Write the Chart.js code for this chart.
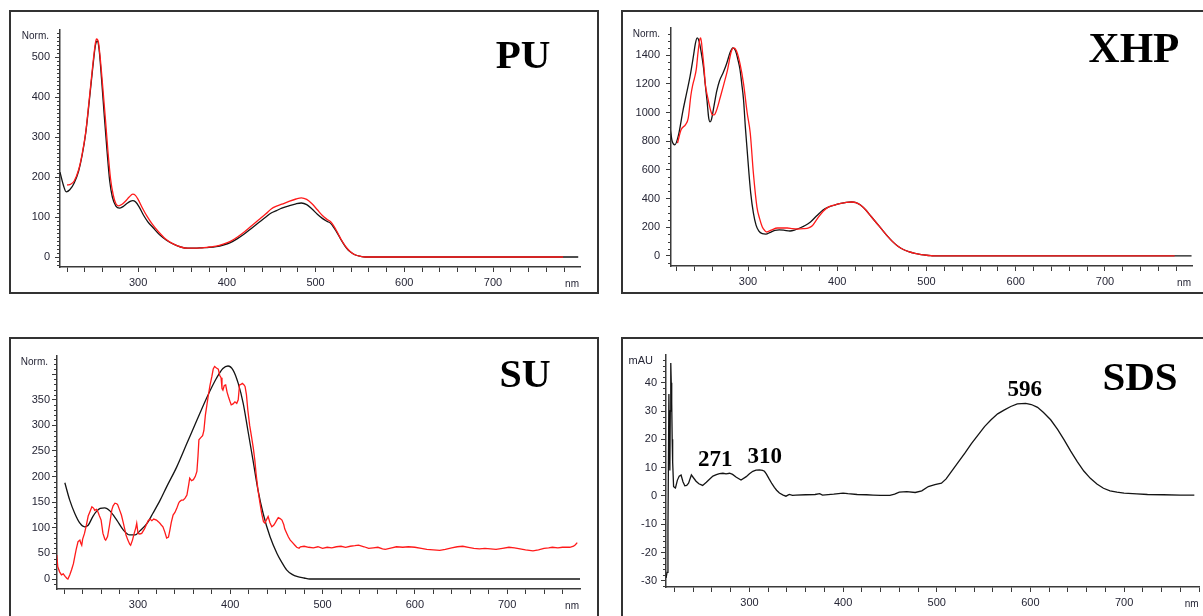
<!DOCTYPE html>
<html>
<head>
<meta charset="utf-8">
<title>UV-Vis spectra</title>
<script src="https://cdn.jsdelivr.net/npm/chart.js@4.4.1/dist/chart.umd.min.js"></script>
<style>
  body { margin: 0; background: #fff; width: 1203px; height: 616px; overflow: hidden; position: relative; }
  .frame { position: absolute; border: 2px solid #333; box-sizing: border-box; }
  canvas { position: absolute; }
</style>
</head>
<body>
<script>
// ---- spectra (wavelength in nm, absorbance) ----
const xLabels = [300, 400, 500, 600, 700];

// PU
const puBlackNm = [212, 216, 219, 223, 228, 233, 237, 241, 245, 249, 252, 254, 256, 259, 262, 265, 268, 271, 275, 279, 283, 287, 291, 294, 297, 301, 306, 311, 317, 324, 332, 340, 348, 356, 364, 372, 380, 388, 396, 404, 412, 420, 428, 436, 444, 450, 456, 462, 470, 478, 484, 490, 496, 502, 508, 513, 517, 521, 525, 529, 533, 537, 541, 545, 550, 556, 600, 700, 796];
const puBlack   = [212, 178, 163, 168, 185, 215, 255, 310, 390, 475, 530, 540, 520, 440, 350, 265, 190, 150, 127, 122, 126, 133, 139, 141, 138, 126, 105, 88, 73, 56, 42, 32, 25, 22, 22, 23, 24, 26, 30, 36, 46, 58, 72, 86, 100, 110, 116, 122, 128, 133, 135, 131, 120, 107, 96, 89, 84, 72, 58, 42, 28, 17, 10, 5, 2, 0, 0, 0, 0];
const puRedNm = [220, 224, 228, 233, 237, 241, 245, 248, 251, 253, 255, 257, 260, 263, 266, 269, 272, 275, 278, 282, 286, 290, 294, 297, 300, 305, 310, 316, 323, 331, 340, 348, 356, 364, 372, 380, 388, 396, 404, 412, 420, 428, 436, 444, 450, 456, 462, 470, 478, 484, 490, 496, 502, 508, 513, 517, 521, 525, 529, 533, 537, 541, 545, 550, 556, 779];
const puRed   = [180, 182, 190, 218, 258, 312, 395, 460, 520, 545, 540, 505, 430, 350, 265, 195, 155, 133, 128, 132, 140, 150, 157, 154, 144, 122, 102, 82, 63, 45, 32, 25, 22, 22, 23, 25, 27, 32, 39, 50, 63, 78, 93, 108, 120, 127, 132, 139, 145, 148, 144, 133, 118, 103, 94, 88, 76, 60, 43, 29, 18, 10, 5, 2, 0, 0];

// XHP
const xhpBlackNm = [213, 215, 218, 222, 227, 231, 235, 239, 241, 243, 245, 247, 250, 252, 254, 256, 257.5, 259, 262, 265, 268, 272, 276, 280, 283, 286, 289, 291, 293, 295, 297, 299, 301, 303, 306, 309, 312, 316, 320, 325, 330, 335, 340, 347, 352, 358, 364, 370, 377, 384, 390, 397, 404, 410, 416, 421, 426, 432, 438, 444, 450, 456, 462, 468, 474, 480, 487, 494, 500, 505, 510, 797];
const xhpBlack   = [878, 800, 774, 840, 1010, 1130, 1250, 1400, 1480, 1520, 1500, 1440, 1320, 1200, 1087, 960, 935, 950, 1050, 1150, 1220, 1275, 1340, 1420, 1450, 1430, 1360, 1300, 1200, 1087, 900, 740, 580, 440, 300, 215, 175, 155, 152, 165, 178, 182, 180, 174, 180, 195, 212, 237, 280, 320, 340, 355, 366, 373, 376, 372, 355, 320, 275, 230, 185, 140, 100, 68, 45, 30, 18, 10, 5, 2, 0, 0];
const xhpRedNm = [221, 225, 230, 233, 236, 238, 240, 242, 244, 246, 247, 249, 251, 252, 255, 258, 260, 262, 265, 269, 273, 277, 281, 284, 287, 291, 295, 299, 302.5, 306, 310, 313, 316, 319, 321, 326, 333, 340, 344, 350, 355, 362, 368, 372, 376, 380, 384, 390, 397, 404, 410, 416, 421, 426, 432, 438, 444, 450, 456, 462, 468, 474, 480, 487, 494, 500, 505, 510, 778];
const xhpRed   = [787, 880, 915, 960, 1120, 1190, 1240, 1300, 1420, 1510, 1520, 1420, 1290, 1206, 1100, 1017, 985, 983, 1020, 1108, 1200, 1296, 1420, 1450, 1430, 1340, 1200, 1000, 857, 578, 341, 260, 202, 175, 167, 180, 195, 195, 195, 190, 188, 190, 195, 210, 245, 280, 310, 340, 355, 366, 373, 376, 372, 355, 320, 275, 230, 185, 140, 100, 68, 45, 30, 18, 10, 5, 2, 0, 0];

// SU
const suBlackNm = [220.7, 226, 231.5, 237, 242, 246, 251, 255, 259, 264, 269.5, 277, 284, 291, 297, 302, 310, 316, 324, 331, 342, 353, 364, 375, 385, 392, 397.5, 403, 408.6, 414, 419, 424.6, 430, 435.6, 443, 450.6, 456, 461, 467, 473, 480, 486, 779];
const suBlack   = [188, 154, 128, 109, 102, 105, 122, 132, 138, 139, 133, 115, 96, 86, 86, 94, 109, 128, 154, 180, 219, 265, 311, 356, 392, 411, 416, 408, 382, 343, 291, 232, 174, 128, 83, 50, 32, 18, 9, 4.5, 2, 0, 0];
const suRedNm = [212, 213, 215, 217, 219, 221, 223, 224, 226, 228, 230, 231.5, 233, 235, 237, 238, 239, 240, 242, 244, 246, 248, 250, 252, 253, 255, 256.6, 258, 260, 262, 264, 265, 267, 269, 271.6, 273, 275, 277, 278, 280, 282, 284, 285.8, 287, 289, 291, 292, 294, 296, 297.6, 298.6, 300, 302, 304, 306, 307, 309, 311, 313, 315, 317, 320, 322, 323.7, 325, 327, 329, 331, 333, 334.6, 336, 338, 340, 342, 344, 345, 347, 349, 351, 353, 355, 356, 358, 360, 362, 363.8, 365, 366, 368, 370, 371.4, 373, 376, 378, 380, 381.5, 383, 385, 387, 388.5, 390, 391, 392, 393.5, 395, 396.5, 398, 400, 401, 403, 405, 407, 408.6, 410, 411.5, 413, 414.5, 416, 417.5, 419, 421, 423, 425, 426.6, 428, 430, 432, 434, 436, 437.5, 439, 441, 443, 445, 447, 448.5, 450, 452, 454, 456, 458, 459, 461, 463, 465, 467, 470, 472, 474.5, 476, 480, 485, 490, 495, 500, 505, 510, 515, 520, 525, 530, 535, 539, 545, 550, 555, 560, 565, 568, 575, 580, 587, 593, 600, 607, 613, 620, 627, 633, 640, 646, 652, 658, 664, 670, 676, 682, 688, 695, 702, 708, 714, 720, 728, 734, 740, 745, 749, 755, 760, 765, 768, 772, 774, 776];
const suRed   = [47, 24, 14, 8, 10, 5, 1, 0, 8, 18, 30, 44, 58, 73, 76, 70, 66, 78, 89, 105, 123, 132, 141, 138, 134, 136, 131, 124, 115, 89, 78, 76, 83, 104, 135, 143, 148, 147, 145, 135, 125, 110, 96, 86, 76, 68, 66, 76, 90, 100, 109, 89, 88, 89, 95, 98, 106, 114, 117, 114, 117, 115, 112, 109, 106, 102, 92, 80, 82, 96, 110, 125, 130, 138, 148, 151, 154, 154, 158, 164, 185, 197, 192, 194, 200, 210, 240, 272, 276, 280, 290, 320, 356, 378, 395, 410, 415, 412, 410, 398, 393, 372, 369, 378, 379, 365, 356, 345, 340, 342, 346, 343, 350, 379, 380, 382, 380, 376, 360, 330, 300, 278, 255, 232, 205, 174, 150, 128, 112, 109, 115, 122, 110, 102, 105, 109, 114, 120, 118, 115, 106, 98, 90, 82, 76, 72, 66, 62, 60, 63, 64, 62, 61, 63, 60, 62, 61, 63, 64, 62, 64, 65, 66, 63, 60, 61, 62, 59, 58, 61, 63, 62, 63, 62, 60, 58, 57, 56, 58, 61, 63, 64, 62, 60, 59, 60, 59, 58, 60, 62, 61, 59, 57, 55, 57, 60, 61, 62, 61, 62, 62, 62, 64, 67, 71];

// SDS
const sdsNm = [211, 212, 213, 214, 214.5, 215, 215.5, 216, 216.5, 217, 217.5, 218, 219, 220, 221, 223, 225, 227, 229, 231, 233, 235, 238, 240, 243, 246, 250, 254, 257.6, 261, 264.7, 268, 271.7, 275, 278.8, 282, 286, 291, 296.6, 300, 303.6, 307, 310.7, 314, 316, 318, 321, 324, 326.6, 329, 332, 336, 339, 342.5, 346, 349.6, 360, 370, 375, 378, 390, 400, 405, 415, 425, 432, 440, 450, 455, 460, 468, 477, 484, 491, 498, 505, 510, 515.6, 522, 530, 537, 544, 551, 558, 565, 572.3, 579, 586, 595, 601, 607.6, 614, 621.6, 629, 636, 643, 650, 657, 664, 671, 678, 685, 692.4, 700, 713.6, 725, 742, 760, 775];
const sdsAbs = [-29, -27, -11, 36, 20, 9, 30, 47, 40, 33, 20, 12, 3.3, 3, 2.8, 5.5, 7, 7.4, 5, 3.6, 3.7, 4.5, 7.4, 6.5, 5.2, 4.3, 3.7, 4.8, 6, 7, 7.5, 7.9, 8, 7.8, 8, 7.6, 6.6, 5.6, 6.8, 7.8, 8.7, 9.1, 9.2, 9, 8.7, 7.8, 6, 4.3, 3, 2, 1, 0.3, -0.1, 0.5, 0.2, 0.3, 0.4, 0.5, 0.8, 0.3, 0.6, 1, 0.8, 0.5, 0.4, 0.3, 0.2, 0.2, 0.6, 1.3, 1.5, 1.2, 1.8, 3.3, 4, 4.5, 6, 8.6, 11.5, 15.1, 18.5, 21.5, 24.5, 26.9, 29, 30.4, 31.6, 32.5, 32.7, 32.3, 31.3, 29.5, 26.9, 23.5, 19.8, 15.8, 12.1, 8.8, 6.2, 4.2, 2.7, 1.8, 1.3, 1, 0.7, 0.5, 0.4, 0.3, 0.3];
const sdsPeaks = [271, 310, 596];

// ---- drawing ----
const AXIS = '#3a3a3a';
const TEXT = '#262636';
const BLACK = '#141414';
const RED = '#ff1a1a';

function steps(min, max, step) {
  const out = [];
  for (let v = Math.ceil(min / step - 1e-9) * step; v <= max + 1e-9; v += step) out.push(Math.round(v * 1000) / 1000);
  return out;
}

function valueAt(nm, vals, at) {
  let best = 0;
  nm.forEach((x, i) => { if (Math.abs(x - at) < Math.abs(nm[best] - at)) best = i; });
  return vals[best];
}

const decor = {
  id: 'decor',
  afterDraw(chart, args, o) {
    const { ctx, chartArea: a, scales: { x, y } } = chart;
    ctx.save();
    // short minor ticks on the y axis
    ctx.strokeStyle = AXIS;
    ctx.lineWidth = 1;
    for (const v of steps(y.min, y.max, o.minor)) {
      if (Math.abs(v % o.major) < 1e-6) continue;
      const py = Math.round(y.getPixelForValue(v)) + 0.5;
      ctx.beginPath();
      ctx.moveTo(a.left - 3, py);
      ctx.lineTo(a.left, py);
      ctx.stroke();
    }
    // axis units
    ctx.fillStyle = TEXT;
    ctx.textBaseline = 'middle';
    ctx.textAlign = 'right';
    ctx.font = o.unitFont;
    ctx.fillText(o.unit, a.left - o.unitGap, a.top + 6);
    ctx.font = '10px "Liberation Sans", Arial, sans-serif';
    ctx.fillText('nm', a.right - 1, a.bottom + 17);
    // panel name
    ctx.fillStyle = '#000';
    ctx.textAlign = 'center';
    ctx.textBaseline = 'alphabetic';
    ctx.font = `bold ${o.titleSize}px "Liberation Serif", "Times New Roman", serif`;
    ctx.fillText(o.title, o.titleX, o.titleY);
    // peak wavelengths
    if (o.peaks) {
      ctx.font = 'bold 23px "Liberation Serif", "Times New Roman", serif';
      o.peaks.forEach((p, i) => {
        const px = x.getPixelForValue(p) + o.peakShift[i];
        const py = y.getPixelForValue(valueAt(o.peakNm, o.peakVals, p)) - 7;
        ctx.fillText(String(p), px, py);
      });
    }
    ctx.restore();
  }
};

function series(nm, vals, color, smooth) {
  return {
    data: nm.map((x, i) => ({ x, y: vals[i] })),
    borderColor: color,
    borderWidth: 1.3,
    pointRadius: 0,
    fill: false,
    tension: smooth ? 0.4 : 0,
    cubicInterpolationMode: smooth ? 'monotone' : 'default'
  };
}

function panel(p) {
  const fr = document.createElement('div');
  fr.className = 'frame';
  Object.assign(fr.style, { left: p.frame.x + 'px', top: p.frame.y + 'px', width: p.frame.w + 'px', height: p.frame.h + 'px' });
  document.body.appendChild(fr);

  const cx = p.frame.x + 2, cy = p.frame.y + 2;
  const cw = Math.min(p.frame.x + p.frame.w - 2, 1203) - cx;
  const ch = Math.min(p.frame.y + p.frame.h - 2, 616) - cy;
  const cv = document.createElement('canvas');
  cv.width = cw; cv.height = ch;
  cv.style.left = cx + 'px'; cv.style.top = cy + 'px';
  document.body.appendChild(cv);

  const tickFont = { family: '"Liberation Sans", Arial, sans-serif', size: 11 };
  new Chart(cv, {
    type: 'line',
    data: { datasets: p.datasets },
    options: {
      responsive: false,
      animation: false,
      devicePixelRatio: 1,
      layout: { padding: { left: 0, top: p.area.t - cy, right: cx + cw - p.area.r, bottom: 0 } },
      plugins: {
        legend: { display: false },
        tooltip: { enabled: false },
        decor: Object.assign({}, p.decor, {
          titleX: p.decor.titleX - cx,
          titleY: p.decor.titleY - cy
        })
      },
      scales: {
        x: {
          type: 'linear',
          min: p.x[0], max: p.x[1],
          afterBuildTicks: s => { s.ticks = steps(p.x[0], p.x[1], 20).map(value => ({ value })); },
          afterFit: s => { s.height = cy + ch - p.area.b; },
          ticks: {
            autoSkip: false, maxRotation: 0, padding: 4,
            color: TEXT, font: tickFont,
            callback: v => xLabels.includes(v) ? String(v) : ''
          },
          grid: { drawOnChartArea: false, tickLength: 5, tickColor: AXIS, tickWidth: 1 },
          border: { color: AXIS, width: 1.5 }
        },
        y: {
          type: 'linear',
          min: p.y[0], max: p.y[1],
          afterBuildTicks: s => { s.ticks = steps(p.y[0], p.y[1], p.decor.major).map(value => ({ value })); },
          afterFit: s => { s.width = p.area.l - cx; },
          ticks: {
            autoSkip: false, padding: p.yPad,
            color: TEXT, font: tickFont,
            callback: v => p.yLabels.includes(v) ? String(v) : ''
          },
          grid: { drawOnChartArea: false, tickLength: 5, tickColor: AXIS, tickWidth: 1 },
          border: { color: AXIS, width: 1.5 }
        }
      }
    },
    plugins: [decor]
  });
}

const unitFont = '10px "Liberation Sans", Arial, sans-serif';

panel({
  frame: { x: 9, y: 10, w: 590, h: 284 },
  area: { l: 60, t: 30, r: 580, b: 267 },
  x: [212, 798], y: [-25, 567.5], yPad: 5,
  yLabels: [0, 100, 200, 300, 400, 500],
  datasets: [series(puRedNm, puRed, RED, true), series(puBlackNm, puBlack, BLACK, true)],
  decor: { major: 100, minor: 10, unit: 'Norm.', unitFont, unitGap: 11, title: 'PU', titleSize: 41, titleX: 523, titleY: 68 }
});

panel({
  frame: { x: 621, y: 10, w: 590, h: 284 },
  area: { l: 671, t: 28, r: 1192, b: 266 },
  x: [213.7, 797.5], y: [-70, 1589], yPad: 6,
  yLabels: [0, 200, 400, 600, 800, 1000, 1200, 1400],
  datasets: [series(xhpRedNm, xhpRed, RED, true), series(xhpBlackNm, xhpBlack, BLACK, true)],
  decor: { major: 200, minor: 50, unit: 'Norm.', unitFont, unitGap: 11, title: 'XHP', titleSize: 43, titleX: 1134, titleY: 62 }
});

panel({
  frame: { x: 9, y: 337, w: 590, h: 290 },
  area: { l: 57, t: 356, r: 580, b: 589 },
  x: [212.2, 779], y: [-19.5, 435.5], yPad: 2,
  yLabels: [0, 50, 100, 150, 200, 250, 300, 350],
  datasets: [series(suRedNm, suRed, RED, false), series(suBlackNm, suBlack, BLACK, true)],
  decor: { major: 50, minor: 10, unit: 'Norm.', unitFont, unitGap: 9, title: 'SU', titleSize: 40, titleX: 525, titleY: 387 }
});

panel({
  frame: { x: 621, y: 337, w: 590, h: 290 },
  area: { l: 666, t: 355, r: 1203, b: 587 },
  x: [210.9, 780.6], y: [-32.2, 49.8], yPad: 4,
  yLabels: [-30, -20, -10, 0, 10, 20, 30, 40],
  datasets: [series(sdsNm, sdsAbs, BLACK, false)],
  decor: {
    major: 10, minor: 2, unit: 'mAU', unitFont: '11px "Liberation Sans", Arial, sans-serif', unitGap: 13,
    title: 'SDS', titleSize: 41, titleX: 1140, titleY: 390,
    peaks: sdsPeaks, peakShift: [-7, 6, -2], peakNm: sdsNm, peakVals: sdsAbs
  }
});
</script>
</body>
</html>
